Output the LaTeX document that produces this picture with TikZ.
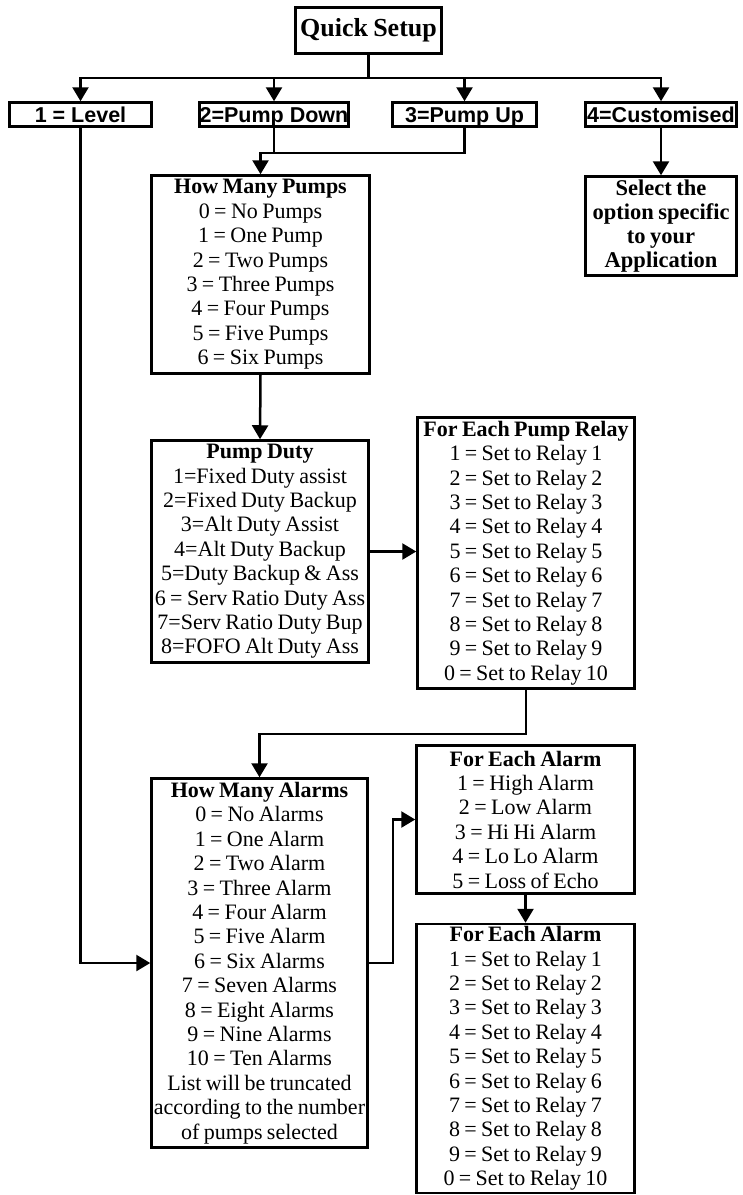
\documentclass[tikz,border=0pt]{standalone}
\usepackage{fontspec}
\setmainfont{Liberation Serif}[WordSpace=0.8]
\newfontfamily\arialf{Liberation Sans}
\usetikzlibrary{arrows.meta}
\begin{document}
\begin{tikzpicture}[x=1pt,y=-1pt, line width=2.5pt,
  box/.style={draw, line width=2.5pt, inner sep=0pt, align=center, font=\fontsize{22}{24.4}\selectfont},
  topbox/.style={draw, line width=2.5pt, inner sep=0pt, minimum height=24pt, text height=15.5pt, text depth=0pt, font=\arialf\bfseries\fontsize{21.5}{24}\selectfont},
  arr/.style={-{Triangle[width=16pt,length=14pt]}}]
\useasboundingbox (0,0) rectangle (743,1195);

\node[box, font=\bfseries\fontsize{26}{30}\selectfont, minimum width=146pt, minimum height=46pt] (qs) at (368.5,30.5) {Quick Setup};

\node[topbox, minimum width=142pt] (lvl) at (80.5,114.5) {1 = Level};
\node[topbox, minimum width=149pt] (pd) at (274,114.5) {2=Pump Down};
\node[topbox, minimum width=144pt] (pu) at (464.5,114.5) {3=Pump Up};
\node[topbox, minimum width=151pt] (cu) at (661,114.5) {4=Customised};

\node[box, font=\bfseries\fontsize{22.5}{24.2}\selectfont, minimum width=151pt, minimum height=99pt] (sel) at (661,226)
  {Select the\\option specific\\to your\\Application};

\node[box, minimum width=218pt, minimum height=198pt] (hmp) at (260.5,274.5)
  {\textbf{How Many Pumps}\\0 = No Pumps\\1 = One Pump\\2 = Two Pumps\\3 = Three Pumps\\4 = Four Pumps\\5 = Five Pumps\\6 = Six Pumps};

\node[box, minimum width=217pt, minimum height=222pt] (duty) at (260,551.5)
  {\textbf{Pump Duty}\\1=Fixed Duty assist\\2=Fixed Duty Backup\\3=Alt Duty Assist\\4=Alt Duty Backup\\5=Duty Backup \& Ass\\6 = Serv Ratio Duty Ass\\7=Serv Ratio Duty Bup\\8=FOFO Alt Duty Ass};

\node[box, minimum width=217pt, minimum height=271pt] (relay) at (526,553)
  {\textbf{For Each Pump Relay}\\1 = Set to Relay 1\\2 = Set to Relay 2\\3 = Set to Relay 3\\4 = Set to Relay 4\\5 = Set to Relay 5\\6 = Set to Relay 6\\7 = Set to Relay 7\\8 = Set to Relay 8\\9 = Set to Relay 9\\0 = Set to Relay 10};

\node[box, minimum width=216pt, minimum height=369pt] (hma) at (259.5,963)
  {\textbf{How Many Alarms}\\0 = No Alarms\\1 = One Alarm\\2 = Two Alarm\\3 = Three Alarm\\4 = Four Alarm\\5 = Five Alarm\\6 = Six Alarms\\7 = Seven Alarms\\8 = Eight Alarms\\9 = Nine Alarms\\10 = Ten Alarms\\List will be truncated\\according to the number\\of pumps selected};

\node[box, minimum width=218pt, minimum height=148pt] (ea1) at (525.5,819.5)
  {\textbf{For Each Alarm}\\1 = High Alarm\\2 = Low Alarm\\3 = Hi Hi Alarm\\4 = Lo Lo Alarm\\5 = Loss of Echo};

\node[box, minimum width=218pt, minimum height=269pt] (ea2) at (525.5,1058.5)
  {\textbf{For Each Alarm}\\1 = Set to Relay 1\\2 = Set to Relay 2\\3 = Set to Relay 3\\4 = Set to Relay 4\\5 = Set to Relay 5\\6 = Set to Relay 6\\7 = Set to Relay 7\\8 = Set to Relay 8\\9 = Set to Relay 9\\0 = Set to Relay 10};

% connectors
\coordinate (j0) at (qs.south |- 0,78);
\draw (qs.south) -- (j0);
\draw[arr] (j0) -| (lvl.north);
\draw[arr] (j0) -| (pd.north);
\draw[arr] (j0) -| (pu.north);
\draw[arr] (j0) -| (cu.north);

\coordinate (j1) at (hmp.north |- 0,153);
\draw[arr] (pu.south) |- (j1) -- (hmp.north);
\draw (pd.south) -- (pd.south |- j1);

\draw[arr] (cu.south) -- (sel.north);
\draw[arr] (hmp.south) -- (duty.north);
\draw[arr] (duty.east) -- (duty.east -| relay.west);
\coordinate (j2) at (hma.north |- 0,734);
\draw[arr] (relay.south) |- (j2) -- (hma.north);
\draw[arr] (lvl.south) |- (hma.west);
\draw[arr] (hma.east) -- ++(24,0) |- (ea1.west);
\draw[arr] (ea1.south) -- (ea2.north);
\end{tikzpicture}
\end{document}
